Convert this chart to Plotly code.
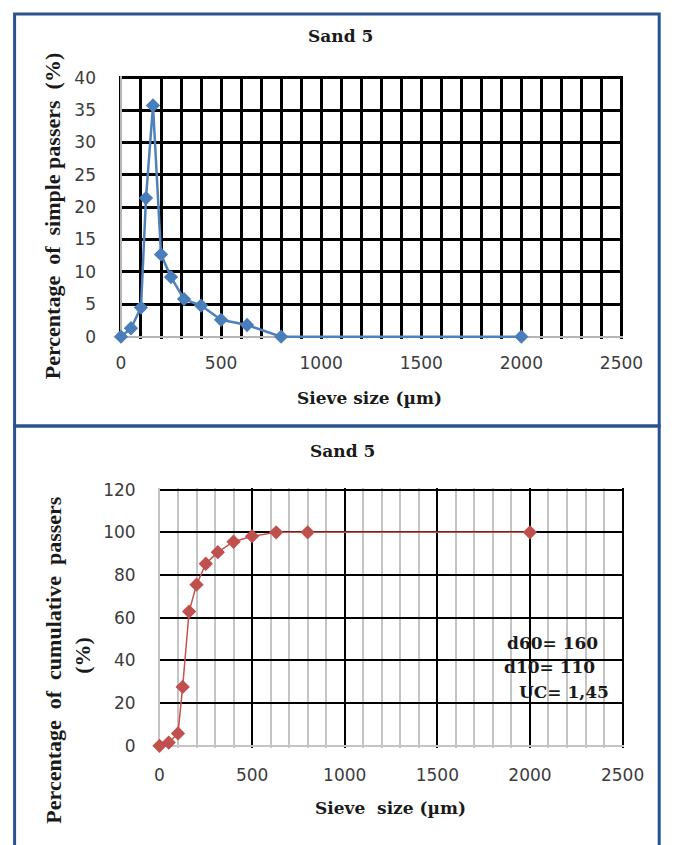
import plotly.graph_objects as go

# ---- data ----
sieve_um = [0, 50, 100, 125, 160, 200, 250, 315, 400, 500, 630, 800, 2000]
simple_pct = [0, 1.3, 4.5, 21.4, 35.7, 12.7, 9.2, 5.8, 4.8, 2.6, 1.8, 0, 0]
cumulative_pct = [0, 1.5, 5.8, 27.6, 62.9, 75.5, 85.3, 90.7, 95.6, 98.2, 100, 100, 100]
x_ticks = [0, 500, 1000, 1500, 2000, 2500]
y1_ticks = [0, 5, 10, 15, 20, 25, 30, 35, 40]
y2_ticks = [0, 20, 40, 60, 80, 100, 120]
chart_title = "Sand 5"
x_title_top = "Sieve size (µm)"
x_title_bottom = "Sieve&nbsp; size (µm)"
y_title_top = "Percentage&nbsp; of&nbsp; simple passers&nbsp; (%)"
y_title_bottom = "Percentage&nbsp; of&nbsp; cumulative&nbsp; passers"
note_lines = ["d60= 160", "d10= 110", "UC= 1,45"]

W, H = 685, 845


def px(x):
    return x / W


def py(y):
    return 1 - y / H


SERIF = "DejaVu Serif"
SERIF_V = "Liberation Serif"
SANS = "DejaVu Sans"
TICKC = "#3c3c3c"

fig = go.Figure()
fig.add_trace(go.Scatter(
    x=sieve_um, y=simple_pct, mode="lines+markers", xaxis="x", yaxis="y",
    line=dict(color="#4F81BD", width=2.5),
    marker=dict(symbol="diamond", size=11, color="#4A7EBB"),
    cliponaxis=False, showlegend=False))
fig.add_trace(go.Scatter(
    x=sieve_um, y=cumulative_pct, mode="lines+markers", xaxis="x2", yaxis="y2",
    line=dict(color="#C9504D", width=1.5),
    marker=dict(symbol="diamond", size=11, color="#C0504D"),
    cliponaxis=False, showlegend=False))

tickfont = dict(family=SANS, size=17, color=TICKC)

fig.update_layout(
    width=W, height=H, margin=dict(l=0, r=0, t=0, b=0),
    paper_bgcolor="white", plot_bgcolor="white",
    xaxis=dict(domain=[px(120), px(642)], anchor="y", range=[-10, 2510],
               tickvals=x_ticks, tickfont=tickfont, ticks="", ticklabelstandoff=12,
               showgrid=True, gridcolor="black", gridwidth=2.5,
               minor=dict(dtick=100, showgrid=True, gridcolor="black", gridwidth=2.5),
               zeroline=True, zerolinecolor="#b5b5b5", zerolinewidth=2, showline=False),
    yaxis=dict(domain=[py(337), py(69)], anchor="x", range=[-0.3, 40.3],
               tickvals=y1_ticks, tickfont=tickfont, ticks="", ticklabelstandoff=22,
               showgrid=True, gridcolor="black", gridwidth=2.5,
               zeroline=True, zerolinecolor="#b5b5b5", zerolinewidth=2, showline=False),
    xaxis2=dict(domain=[px(160), px(643)], anchor="y2", range=[-10, 2510],
                tickvals=x_ticks, tickfont=tickfont, ticks="", ticklabelstandoff=15,
                showgrid=True, gridcolor="black", gridwidth=2,
                minor=dict(dtick=100, showgrid=True, gridcolor="#c4c4c4", gridwidth=2),
                zeroline=True, zerolinecolor="#c4c4c4", zerolinewidth=2, showline=False),
    yaxis2=dict(domain=[py(754), py(489)], anchor="x2", range=[-0.9, 120.9],
                tickvals=y2_ticks, tickfont=tickfont, ticks="", ticklabelstandoff=21,
                showgrid=True, gridcolor="black", gridwidth=2,
                zeroline=True, zerolinecolor="#c4c4c4", zerolinewidth=2, showline=False),
)

BORDER = "#2A5290"
fig.add_shape(type="rect", xref="paper", yref="paper",
              x0=px(12), x1=px(679), y0=py(426), y1=py(6),
              line=dict(color=BORDER, width=3), fillcolor="rgba(0,0,0,0)")
fig.add_shape(type="rect", xref="paper", yref="paper",
              x0=px(12), x1=px(679), y0=py(900), y1=py(426),
              line=dict(color=BORDER, width=3), fillcolor="rgba(0,0,0,0)")


def ann(text, x, y, angle=0, size=17, family=SERIF):
    fig.add_annotation(text=f"<b>{text}</b>", x=px(x), y=py(y), xref="paper", yref="paper",
                       showarrow=False, xanchor="center", yanchor="middle", textangle=angle,
                       font=dict(family=family, size=size, color="#1a1a1a"))


ann(chart_title, 349, 29)
ann(chart_title, 351, 452)
ann(x_title_top, 379, 398)
ann(x_title_bottom, 401, 815)
ann(y_title_top, 52, 212, angle=-90, size=22, family=SERIF_V)
ann(y_title_bottom, 52, 664, angle=-90, size=22, family=SERIF_V)
ann("(%)", 82, 660, angle=-90, size=22, family=SERIF_V)
ann(note_lines[0], 569, 647)
ann(note_lines[1], 566, 672)
ann(note_lines[2], 581, 697)

fig.write_html("out.html")
